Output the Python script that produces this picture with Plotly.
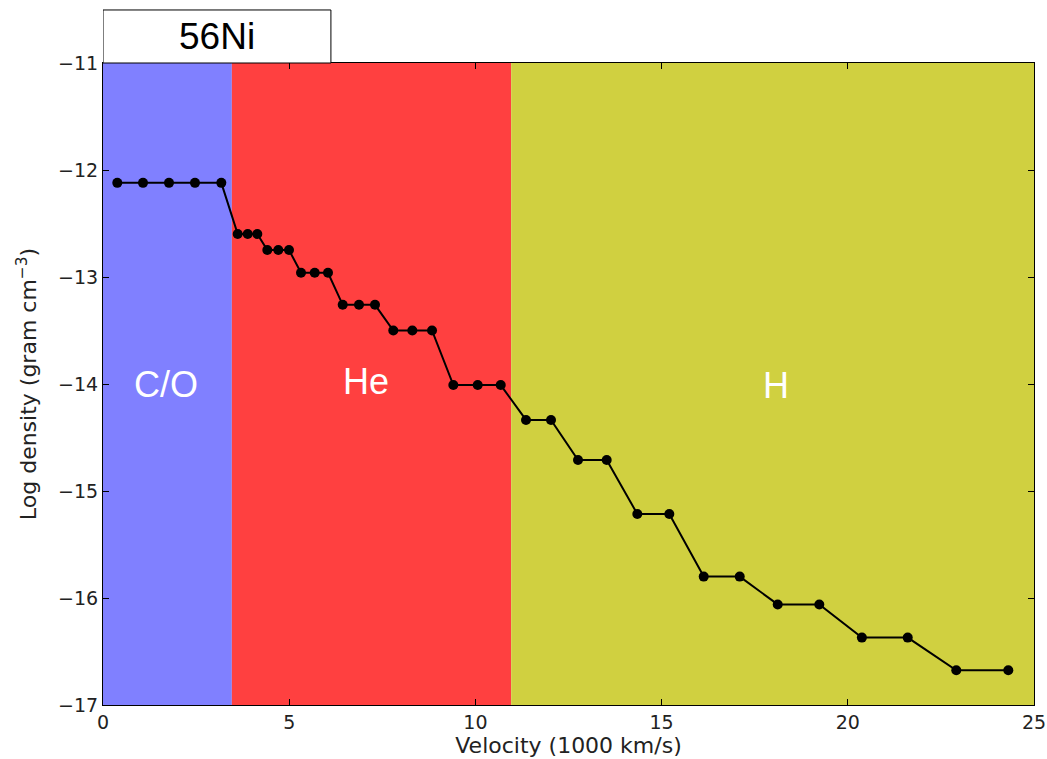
import plotly.graph_objects as go

velocity = [0.384, 1.074, 1.772, 2.470, 3.177,
            3.617, 3.886, 4.143,
            4.412, 4.707, 4.995,
            5.317, 5.685, 6.042,
            6.437, 6.874, 7.304,
            7.795, 8.306, 8.835,
            9.407, 10.062, 10.680,
            11.359, 12.030,
            12.755, 13.526,
            14.348, 15.207,
            16.131, 17.098,
            18.118, 19.235,
            20.378, 21.609,
            22.913, 24.310]
log_density = [-12.12, -12.12, -12.12, -12.12, -12.12,
               -12.598, -12.598, -12.598,
               -12.748, -12.748, -12.748,
               -12.96, -12.96, -12.96,
               -13.26, -13.26, -13.26,
               -13.50, -13.50, -13.50,
               -14.01, -14.01, -14.01,
               -14.336, -14.336,
               -14.71, -14.71,
               -15.215, -15.215,
               -15.80, -15.80,
               -16.06, -16.06,
               -16.37, -16.37,
               -16.676, -16.676]

zone_names = ["C/O", "He", "H"]
zone_edges = [0, 3.46, 10.96, 25]
zone_colors = ["#8080FF", "#FF4040", "#D0D040"]
zone_label_x = [1.69, 7.06, 18.07]
zone_label_y = [-14.0, -13.98, -14.01]

ni_box_x = [0, 6.12]
ni_label = "56Ni"

x_ticks = [0, 5, 10, 15, 20, 25]
y_ticks = [-17, -16, -15, -14, -13, -12, -11]

fig = go.Figure()

shapes = []
for i, name in enumerate(zone_names):
    shapes.append(dict(type="rect", xref="x", yref="y",
                       x0=zone_edges[i], x1=zone_edges[i + 1], y0=-17, y1=-11,
                       fillcolor=zone_colors[i], line=dict(width=0), layer="below"))
shapes.append(dict(type="rect", xref="x", yref="paper",
                   x0=ni_box_x[0], x1=ni_box_x[1], y0=1.0, y1=1.0826,
                   fillcolor="white", line=dict(color="black", width=1)))

fig.add_trace(go.Scatter(
    x=velocity, y=log_density, mode="lines+markers",
    line=dict(color="black", width=2),
    marker=dict(color="black", size=10, symbol="circle"),
    showlegend=False, hoverinfo="skip"))

annotations = []
for i, name in enumerate(zone_names):
    annotations.append(dict(x=zone_label_x[i], y=zone_label_y[i], xref="x", yref="y",
                            text=name, showarrow=False,
                            font=dict(family="Liberation Sans", size=36, color="white")))
annotations.append(dict(x=(ni_box_x[0] + ni_box_x[1]) / 2, y=1.041, xref="x", yref="paper",
                        text=ni_label, showarrow=False, yanchor="middle",
                        font=dict(family="Liberation Sans", size=37, color="black")))

axis_common = dict(showgrid=False, zeroline=False, showline=True, linecolor="black",
                   linewidth=1, mirror="ticks", ticks="inside", ticklen=6,
                   tickcolor="black", tickwidth=1, automargin=False,
                   tickfont=dict(family="DejaVu Sans", size=19, color="#222222"))

fig.update_layout(
    width=1047, height=759,
    margin=dict(l=103, r=13, t=63, b=54),
    paper_bgcolor="white", plot_bgcolor="white",
    shapes=shapes, annotations=annotations,
    xaxis=dict(range=[0, 25], tickvals=x_ticks,
               title=dict(text="Velocity (1000 km/s)", standoff=4,
                          font=dict(family="DejaVu Sans", size=22, color="#222222")),
               **axis_common),
    yaxis=dict(range=[-17, -11], tickvals=y_ticks,
               title=dict(text="Log density (gram cm<sup>\u22123</sup>)", standoff=15,
                          font=dict(family="DejaVu Sans", size=22, color="#222222")),
               **axis_common),
)

fig.write_html("out.html")
